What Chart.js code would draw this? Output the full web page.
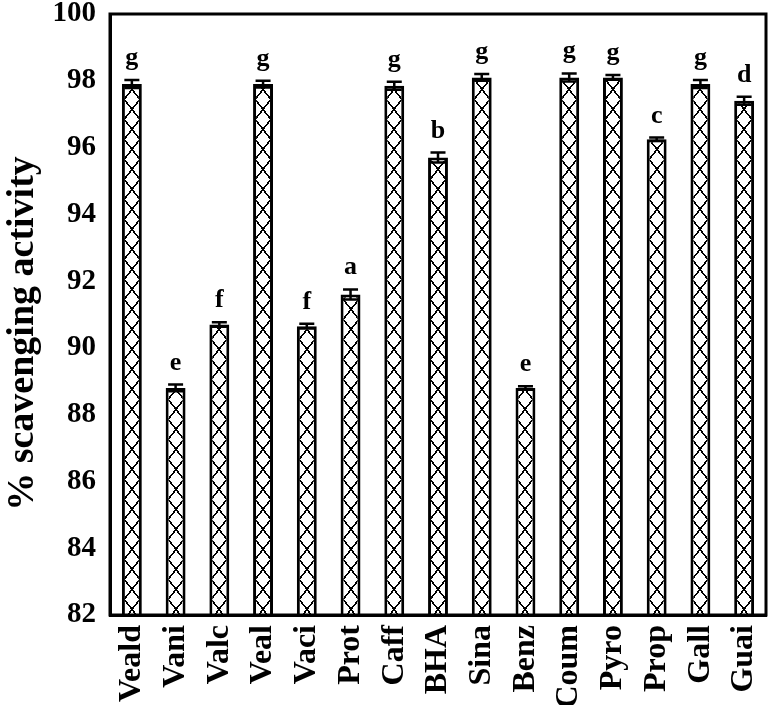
<!DOCTYPE html>
<html><head><meta charset="utf-8">
<script src="https://cdn.jsdelivr.net/npm/chart.js@4/dist/chart.umd.min.js"></script>
<style>html,body{margin:0;padding:0;background:#fff}#wrap{width:773px;height:705px}</style>
</head><body><div id="wrap"><canvas id="c" width="773" height="705"></canvas></div>
<script>
const categories = ["Veald","Vani","Valc","Veal","Vaci","Prot","Caff","BHA","Sina","Benz","Coum","Pyro","Prop","Gall","Guai"];
const values = [97.9, 88.8, 90.7, 97.9, 90.65, 91.6, 97.85, 95.7, 98.1, 88.8, 98.1, 98.1, 96.25, 97.9, 97.4];
const errors = [0.12, 0.1, 0.07, 0.1, 0.07, 0.15, 0.12, 0.15, 0.1, 0.05, 0.12, 0.07, 0.05, 0.12, 0.12];
const letters = ["g","e","f","g","f","a","g","b","g","e","g","g","c","g","d"];
const yTicks = [82,84,86,88,90,92,94,96,98,100];

const TW = 16, TH = 20;
const ctx0 = document.getElementById('c').getContext('2d');
function makePattern(){
  const t = document.createElement('canvas');
  t.width = TW; t.height = TH;
  const g = t.getContext('2d');
  g.fillStyle = '#fff'; g.fillRect(0,0,TW,TH);
  g.fillStyle = '#000';
  // pixel-stepped diagonals (crisp, dotted look)
  for (let yy = 0; yy < TH; yy++) {
    const xx = Math.round(yy * (TW - 1) / (TH - 1));
    g.fillRect(xx, yy, 2, 1);
    g.fillRect(TW - 2 - xx, yy, 2, 1);
  }
  return ctx0.createPattern(t,'repeat');
}
const basePat = makePattern();
function barFill(c){
  const ch = c.chart;
  const xs = ch.scales && ch.scales.x;
  if (!xs || c.dataIndex === undefined) return basePat;
  const px = xs.getPixelForValue(c.dataIndex);
  const p = makePattern();
  try { p.setTransform(new DOMMatrix().translate(Math.round(px - TW/2), 0)); } catch(e) {}
  return p;
}

const overlay = {
  id:'overlay',
  afterDatasetsDraw(chart){
    const {ctx, chartArea:a, scales:{y}} = chart;
    ctx.save();
    ctx.strokeStyle='#000'; ctx.lineWidth=2.5;
    const meta = chart.getDatasetMeta(0);
    meta.data.forEach((bar,i)=>{
      const cx = bar.x;
      const yt = y.getPixelForValue(values[i]+errors[i]);
      const yb = y.getPixelForValue(values[i]-errors[i]);
      ctx.beginPath();
      ctx.moveTo(cx,yt); ctx.lineTo(cx,yb);
      ctx.moveTo(cx-7.5,yt); ctx.lineTo(cx+7.5,yt);
      ctx.moveTo(cx-7.5,yb); ctx.lineTo(cx+7.5,yb);
      ctx.stroke();
      ctx.fillStyle='#000';
      ctx.font='bold 26px "Liberation Serif"';
      ctx.textAlign='center'; ctx.textBaseline='alphabetic';
      ctx.fillText(letters[i], cx, yt-15);
    });
    ctx.lineWidth=3;
    ctx.strokeRect(a.left, a.top, a.right-a.left, a.bottom-a.top);
    ctx.restore();
  }
};

new Chart(ctx0,{
  type:'bar',
  data:{labels:categories,datasets:[{data:values,backgroundColor:barFill,borderColor:'#000',borderWidth:3,barPercentage:0.455,categoryPercentage:1}]},
  options:{
    responsive:false, animation:false,
    layout:{padding:{top:0,right:0,left:0,bottom:0}},
    plugins:{legend:{display:false},tooltip:{enabled:false}},
    scales:{
      x:{
        grid:{display:false, drawTicks:true, tickLength:8, tickColor:'#000', tickWidth:2},
        border:{display:true,color:'#000',width:3},
        ticks:{color:'#000',font:{family:'Liberation Serif',weight:'bold',size:32},maxRotation:90,minRotation:90,padding:2},
        afterFit(s){s.height=90; s.paddingLeft=0; s.paddingRight=7;}
      },
      y:{
        min:82,max:100,
        afterBuildTicks(s){s.ticks=yTicks.map(v=>({value:v}));},
        grid:{display:false, drawTicks:true, tickLength:8, tickColor:'#000', tickWidth:2},
        border:{display:true,color:'#000',width:3},
        ticks:{color:'#000',font:{family:'Liberation Serif',weight:'bold',size:29},padding:6},
        title:{display:true,text:'% scavenging activity\u00a0\u00a0\u00a0\u00a0',color:'#000',font:{family:'Liberation Serif',weight:'bold',size:38},padding:{top:0,bottom:0}},
        afterFit(s){s.width=110; s.paddingTop=14; s.paddingBottom=0;}
      }
    }
  },
  plugins:[overlay]
});
</script></body></html>
